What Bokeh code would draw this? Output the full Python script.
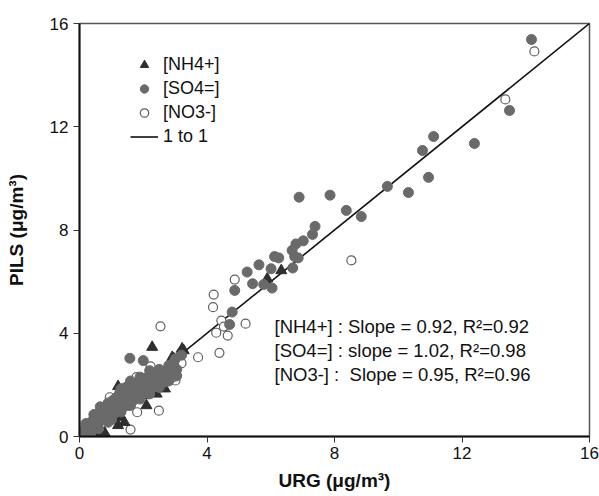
from bokeh.plotting import figure
from bokeh.models import Legend, LegendItem, Label, FixedTicker, Range1d
from bokeh.embed import file_html
from bokeh.resources import INLINE

# ---- data ----
nh4_x = [6.33, 5.89, 3.27, 2.96, 2.28, 1.21, 2.57, 2.10, 2.42, 1.27, 1.21, 0.79, 0.53,
         2.00, 2.68, 2.91, 1.41, 2.20, 0.30, 0.70, 1.00, 1.50, 1.80, 3.22]
nh4_y = [6.43, 6.11, 3.33, 3.01, 3.46, 1.94, 2.24, 1.20, 1.65, 0.75, 0.43, 0.14, 0.10,
         1.59, 1.85, 3.07, 0.55, 1.78, 0.25, 0.60, 0.90, 1.40, 1.70, 3.40]

so4_x = [14.18, 13.49, 11.11, 10.76, 12.39, 10.95, 9.66, 10.32, 6.89, 7.86, 8.37, 8.84,
         7.39, 7.31, 7.02, 6.79, 6.67, 6.75, 6.86, 6.12, 6.25, 5.63, 5.26, 6.01, 6.69,
         5.43, 5.78, 6.04, 4.87, 4.79, 4.71, 1.58, 2.00, 3.20,
         0.05, 0.10, 0.15, 0.20, 0.25, 0.30, 0.35, 0.40, 0.45, 0.50, 0.55, 0.60, 0.65,
         0.70, 0.75, 0.80, 0.85, 0.90, 0.95, 1.00, 1.05, 1.10, 1.15, 1.20, 1.25, 1.30,
         1.35, 1.40, 1.45, 1.50, 1.55, 1.60, 1.65, 1.70, 1.75, 1.80, 1.85, 1.90, 1.95,
         2.00, 2.05, 2.10, 2.15, 2.20, 2.25, 2.30, 2.40, 2.45, 2.50, 2.60, 2.65, 2.75,
         2.85, 2.95, 3.05,
         0.10, 0.25, 0.40, 0.55, 0.70, 0.85, 1.00, 1.15, 1.30, 1.45, 1.60, 1.75, 1.90,
         2.05, 2.20, 2.35, 2.50, 2.65, 2.80, 2.95,
         0.35, 0.60, 0.90, 1.00, 1.30, 1.60, 1.90, 2.20, 2.50, 2.80, 3.05,
         0.20, 0.45, 0.65, 1.30, 1.60, 1.90, 2.20, 2.50, 2.80, 3.00]
so4_y = [15.38, 12.63, 11.62, 11.08, 11.35, 10.04, 9.69, 9.45, 9.27, 9.35, 8.76, 8.52,
         8.14, 7.83, 7.58, 7.46, 7.21, 6.97, 6.92, 6.97, 6.92, 6.65, 6.37, 6.50, 6.53,
         5.92, 5.89, 5.75, 5.66, 4.82, 4.34, 3.03, 2.94, 3.15,
         0.08, 0.20, 0.10, 0.35, 0.20, 0.50, 0.30, 0.60, 0.40, 0.80, 0.45, 0.90, 0.60,
         1.00, 0.65, 1.15, 0.80, 1.30, 0.70, 1.10, 1.40, 0.90, 1.50, 1.20, 1.65, 1.00,
         1.75, 1.40, 1.90, 1.20, 1.60, 1.95, 1.35, 1.80, 2.05, 1.50, 1.90, 2.15, 1.60,
         2.00, 2.25, 1.70, 2.10, 2.35, 1.85, 2.20, 2.45, 1.95, 2.30, 2.50, 2.10, 2.55,
         2.35, 2.75, 2.60,
         0.15, 0.30, 0.45, 0.60, 0.75, 0.90, 1.00, 1.15, 1.30, 1.45, 1.60, 1.75, 1.90,
         2.00, 2.10, 2.25, 2.40, 2.45, 2.60, 2.85,
         0.10, 0.30, 0.55, 0.65, 0.95, 1.20, 1.45, 1.65, 1.90, 2.15, 2.35,
         0.50, 0.85, 1.15, 1.85, 2.15, 2.30, 2.55, 2.60, 2.75, 3.00]

no3_x = [14.27, 13.36, 8.53, 4.87, 4.21, 4.19, 4.45, 5.21, 4.29, 4.65, 4.53, 4.39,
         3.72, 2.54, 3.17, 3.17, 3.01, 3.01, 2.49, 1.81, 1.60, 2.23, 1.79, 0.95,
         2.94, 2.31, 3.20, 3.20, 0.30, 0.60, 1.20, 1.50]
no3_y = [14.92, 13.06, 6.82, 6.08, 5.50, 5.01, 4.49, 4.37, 4.02, 3.91, 4.26, 3.24,
         3.07, 4.27, 3.20, 2.82, 2.49, 2.17, 1.00, 0.94, 0.27, 2.72, 2.30, 1.52,
         2.30, 1.85, 3.27, 2.84, 0.45, 0.75, 1.45, 1.75]

one_x = [0, 16]
one_y = [0, 16]

ticks = [0, 4, 8, 12, 16]
labels = ["[NH4+]", "[SO4=]", "[NO3-]", "1 to 1"]
stats = ["[NH4+] : Slope = 0.92, R\u00b2=0.92",
         "[SO4=] : slope = 1.02, R\u00b2=0.98",
         "[NO3-] :\u00a0 Slope = 0.95, R\u00b2=0.96"]

FONT = "Liberation Sans"

p = figure(width=599, height=496, output_backend="svg", toolbar_location=None,
           x_range=Range1d(0, 16), y_range=Range1d(0, 16),
           min_border_left=79, min_border_right=10, min_border_top=23,
           min_border_bottom=60)
p.grid.visible = False
p.outline_line_color = "#555555"
p.outline_line_width = 1.5
p.background_fill_color = "white"

for ax in (p.xaxis[0], p.yaxis[0]):
    ax.ticker = FixedTicker(ticks=ticks)
    ax.minor_tick_line_color = None
    ax.major_tick_in = 0
    ax.major_tick_out = 6
    ax.axis_line_width = 2
    ax.axis_line_color = "#111111"
    ax.major_tick_line_color = "#333333"
    ax.major_label_text_font = FONT
    ax.major_label_text_font_size = "17px"
    ax.major_label_text_color = "#111111"
    ax.axis_label_text_font = FONT
    ax.axis_label_text_font_size = "19px"
    ax.axis_label_text_font_style = "bold"
    ax.axis_label_text_color = "#111111"

p.xaxis[0].axis_label = "URG (\u03bcg/m\u00b3)"
p.yaxis[0].axis_label = "PILS (\u03bcg/m\u00b3)"
p.xaxis[0].major_label_standoff = 4
p.xaxis[0].axis_label_standoff = 8
p.yaxis[0].major_label_standoff = 5
p.yaxis[0].axis_label_standoff = 20

r_one = p.line(one_x, one_y, line_color="#111111", line_width=1.6)
r_no3 = p.scatter(no3_x, no3_y, marker="circle", size=9, fill_color="white",
                  line_color="#5f5f5f", line_width=1.2)
r_nh4 = p.scatter(nh4_x, nh4_y, marker="triangle", size=11, fill_color="#2f2f2f",
                  line_color="#2f2f2f")
r_so4 = p.scatter(so4_x, so4_y, marker="circle", size=10, fill_color="#6a6a6a",
                  line_color="#6a6a6a")

legend = Legend(items=[LegendItem(label=labels[0], renderers=[r_nh4]),
                       LegendItem(label=labels[1], renderers=[r_so4]),
                       LegendItem(label=labels[2], renderers=[r_no3]),
                       LegendItem(label=labels[3], renderers=[r_one])],
                location=(51, 289), padding=0, margin=0, spacing=3,
                glyph_width=28, glyph_height=21, label_height=21,
                label_standoff=5, border_line_alpha=0, background_fill_alpha=0,
                label_text_font=FONT, label_text_font_size="18px",
                label_text_color="#111111")
p.add_layout(legend)

for i, s in enumerate(stats):
    p.add_layout(Label(x=195, y=110 - i * 24, x_units="screen", y_units="screen",
                       text=s, text_font=FONT, text_font_size="18.5px",
                       text_color="#111111", text_baseline="middle"))

open("out.html", "w").write(file_html(p, INLINE))
